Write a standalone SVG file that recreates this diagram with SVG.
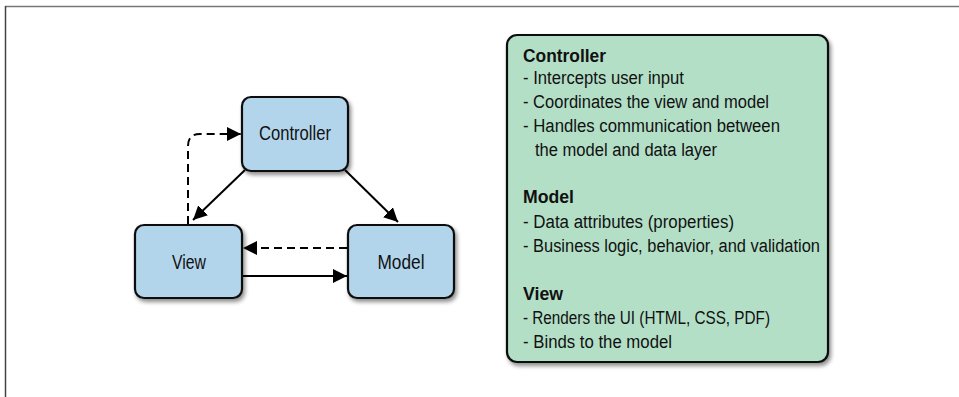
<svg xmlns="http://www.w3.org/2000/svg" width="959" height="397" viewBox="0 0 959 397">
<defs>
<filter id="sh" x="-10%" y="-10%" width="130%" height="130%">
<feGaussianBlur in="SourceAlpha" stdDeviation="2"/>
<feOffset dx="2" dy="3" result="o"/>
<feComponentTransfer><feFuncA type="linear" slope="0.45"/></feComponentTransfer>
<feMerge><feMergeNode/><feMergeNode in="SourceGraphic"/></feMerge>
</filter>
<marker id="ah" markerWidth="10" markerHeight="10" viewBox="0 0 10 10" refX="10" refY="5" orient="auto" markerUnits="userSpaceOnUse">
<path d="M0,0 L10,5 L0,10 z" fill="#000"/>
</marker>
<marker id="ahb" markerWidth="14" markerHeight="14" viewBox="0 0 10 10" refX="10" refY="5" orient="auto" markerUnits="userSpaceOnUse">
<path d="M0,0 L10,5 L0,10 z" fill="#000"/>
</marker>
</defs>
<style>
.node{fill:#b3d5eb;stroke:#111;stroke-width:2.2}
.lbl{font-family:"Liberation Sans",Arial,sans-serif;font-size:20px;fill:#111;text-anchor:middle}
.conn{fill:none;stroke:#000;stroke-width:2;marker-end:url(#ahb)}
.dash{stroke-dasharray:8,5}
.txt{font-family:"Liberation Sans",Arial,sans-serif;font-size:18px;fill:#111}
.b{font-weight:bold}
</style>
<rect width="959" height="397" fill="#fff"/>
<g id="frame" fill="none" stroke="#777" stroke-width="1.5">
<line x1="5" y1="6.5" x2="959" y2="6.5"/>
<line x1="5.5" y1="6" x2="5.5" y2="397" stroke="#444"/>
</g>
<g id="connectors">
<line class="conn" x1="245" y1="170" x2="193" y2="220"/>
<line class="conn" x1="345" y1="170" x2="398" y2="222"/>
<path class="conn dash" d="M188,224 V146 Q188,134 200,134 H241"/>
<line class="conn dash" x1="347" y1="248" x2="243" y2="248"/>
<line class="conn" x1="243" y1="276" x2="347" y2="276"/>
</g>
<g id="controller">
<rect class="node" x="242" y="97" width="106" height="74" rx="9" filter="url(#sh)"/>
<text class="lbl" x="295" y="140" textLength="72" lengthAdjust="spacingAndGlyphs">Controller</text>
</g>
<g id="view">
<rect class="node" x="135" y="225" width="107" height="73" rx="9" filter="url(#sh)"/>
<text class="lbl" x="189" y="269" textLength="34" lengthAdjust="spacingAndGlyphs">View</text>
</g>
<g id="model">
<rect class="node" x="348" y="225" width="106" height="73" rx="9" filter="url(#sh)"/>
<text class="lbl" x="401" y="269" textLength="47" lengthAdjust="spacingAndGlyphs">Model</text>
</g>
<g id="legend">
<rect x="507" y="35" width="321" height="327" rx="10" fill="#b3dfc7" stroke="#111" stroke-width="2.2" filter="url(#sh)"/>
<text class="txt b" x="523" y="62" textLength="83" lengthAdjust="spacingAndGlyphs">Controller</text>
<text class="txt" x="523" y="84" textLength="161" lengthAdjust="spacingAndGlyphs">- Intercepts user input</text>
<text class="txt" x="523" y="108" textLength="246" lengthAdjust="spacingAndGlyphs">- Coordinates the view and model</text>
<text class="txt" x="523" y="132" textLength="257" lengthAdjust="spacingAndGlyphs">- Handles communication between</text>
<text class="txt" x="535" y="156" textLength="182" lengthAdjust="spacingAndGlyphs">the model and data layer</text>
<text class="txt b" x="523" y="203" textLength="51" lengthAdjust="spacingAndGlyphs">Model</text>
<text class="txt" x="523" y="228" textLength="211" lengthAdjust="spacingAndGlyphs">- Data attributes (properties)</text>
<text class="txt" x="523" y="252" textLength="297" lengthAdjust="spacingAndGlyphs">- Business logic, behavior, and validation</text>
<text class="txt b" x="523" y="300" textLength="40" lengthAdjust="spacingAndGlyphs">View</text>
<text class="txt" x="523" y="324" textLength="247" lengthAdjust="spacingAndGlyphs">- Renders the UI (HTML, CSS, PDF)</text>
<text class="txt" x="523" y="348" textLength="149" lengthAdjust="spacingAndGlyphs">- Binds to the model</text>
</g>
</svg>
